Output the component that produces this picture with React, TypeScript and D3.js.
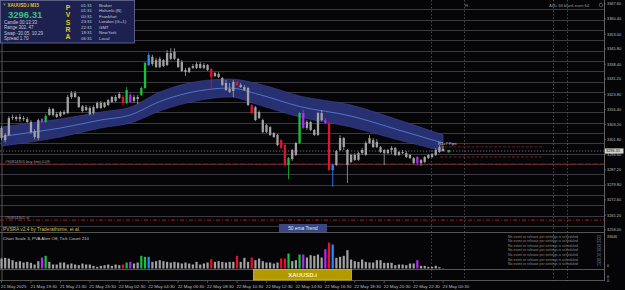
import React from 'react';
import * as d3 from 'd3';

// XAUUSD.i M15 bars, [open, high, low, close]
const ohlc: [number, number, number, number][] = [
  [3307.5, 3308.5, 3301.6, 3302.6], [3304.1, 3305.0, 3300.5, 3301.6], [3304.1, 3313.3, 3303.6, 3312.3],
  [3312.3, 3314.0, 3311.3, 3312.8], [3312.8, 3313.5, 3310.8, 3311.8], [3311.8, 3314.2, 3310.4, 3312.8],
  [3312.3, 3313.3, 3310.8, 3311.8], [3311.8, 3312.8, 3309.9, 3310.4], [3310.4, 3311.3, 3304.6, 3305.5],
  [3306.0, 3307.0, 3302.0, 3303.1], [3302.6, 3312.0, 3301.6, 3311.3], [3311.8, 3312.3, 3309.9, 3310.4],
  [3310.4, 3314.2, 3309.9, 3313.3], [3313.8, 3317.6, 3313.3, 3316.7], [3316.7, 3317.2, 3313.0, 3313.8],
  [3314.2, 3315.2, 3312.3, 3312.8], [3313.3, 3315.7, 3312.8, 3315.2], [3315.2, 3316.2, 3313.8, 3314.2],
  [3314.7, 3323.5, 3314.2, 3322.5], [3322.5, 3325.4, 3321.5, 3324.4], [3324.4, 3325.4, 3322.0, 3322.5],
  [3322.5, 3323.0, 3317.2, 3317.6], [3318.1, 3318.6, 3315.0, 3315.7], [3316.2, 3318.6, 3315.7, 3317.6],
  [3317.2, 3318.1, 3313.5, 3314.2], [3314.7, 3318.4, 3314.0, 3317.6], [3317.2, 3320.3, 3316.7, 3319.6],
  [3319.6, 3320.6, 3316.7, 3317.2], [3317.6, 3320.1, 3317.2, 3319.6], [3318.6, 3321.5, 3318.1, 3321.0],
  [3320.1, 3323.0, 3319.6, 3322.5], [3322.5, 3323.5, 3320.0, 3320.6], [3322.0, 3324.9, 3321.5, 3323.9],
  [3322.5, 3323.5, 3318.6, 3319.6], [3319.6, 3327.3, 3319.0, 3325.9], [3323.5, 3324.4, 3319.6, 3320.1],
  [3320.6, 3323.5, 3319.6, 3322.5], [3322.5, 3323.5, 3319.0, 3321.5], [3323.5, 3327.5, 3323.0, 3326.9],
  [3326.9, 3339.5, 3326.4, 3339.0], [3338.0, 3344.0, 3337.5, 3342.9], [3342.0, 3343.0, 3337.5, 3338.5],
  [3340.4, 3341.5, 3336.6, 3337.0], [3337.0, 3342.0, 3336.5, 3341.0], [3340.4, 3341.0, 3337.0, 3337.5],
  [3338.0, 3345.3, 3337.5, 3343.8], [3343.8, 3346.2, 3340.4, 3341.0], [3341.0, 3346.2, 3340.4, 3344.5],
  [3341.0, 3341.5, 3336.6, 3337.0], [3339.5, 3340.4, 3334.6, 3335.1], [3335.6, 3336.6, 3332.7, 3334.6],
  [3334.6, 3337.0, 3334.1, 3336.6], [3336.6, 3338.5, 3336.1, 3337.5], [3336.6, 3339.5, 3336.1, 3338.5],
  [3338.5, 3339.5, 3336.1, 3336.6], [3336.6, 3339.0, 3336.0, 3338.0], [3338.0, 3338.5, 3335.1, 3335.6],
  [3336.1, 3336.6, 3326.4, 3332.2], [3332.7, 3334.6, 3332.2, 3334.1], [3333.7, 3334.6, 3331.7, 3332.2],
  [3331.7, 3332.2, 3327.8, 3328.3], [3329.3, 3330.7, 3325.4, 3325.9], [3326.4, 3329.3, 3324.4, 3324.9],
  [3325.4, 3330.7, 3322.5, 3329.8], [3329.8, 3330.2, 3327.8, 3328.3], [3328.3, 3329.3, 3326.9, 3327.3],
  [3327.3, 3328.3, 3325.4, 3325.9], [3326.9, 3327.3, 3318.1, 3318.6], [3318.6, 3319.0, 3314.2, 3314.7],
  [3317.6, 3318.1, 3310.8, 3311.3], [3312.3, 3316.0, 3311.8, 3315.2], [3311.3, 3312.0, 3305.0, 3305.5],
  [3305.5, 3309.4, 3305.0, 3308.9], [3307.9, 3308.4, 3303.6, 3304.1], [3305.0, 3305.5, 3302.6, 3303.1],
  [3304.1, 3304.6, 3298.7, 3299.2], [3301.6, 3302.0, 3297.0, 3297.8], [3299.2, 3299.7, 3289.0, 3289.5],
  [3289.5, 3293.4, 3282.7, 3292.9], [3292.4, 3297.3, 3291.5, 3296.8], [3294.4, 3300.7, 3293.9, 3300.2],
  [3300.2, 3315.2, 3299.7, 3314.7], [3314.7, 3316.2, 3307.0, 3307.5], [3307.5, 3311.3, 3306.5, 3310.4],
  [3310.4, 3311.0, 3306.0, 3306.5], [3306.5, 3307.0, 3303.6, 3304.1], [3304.1, 3315.2, 3303.6, 3314.7],
  [3314.7, 3316.2, 3310.8, 3311.3], [3311.3, 3312.3, 3309.4, 3309.9], [3309.9, 3310.4, 3286.6, 3287.1],
  [3287.1, 3290.0, 3278.9, 3289.5], [3289.5, 3296.8, 3289.0, 3296.3], [3296.8, 3304.0, 3296.3, 3302.6],
  [3302.6, 3303.1, 3296.8, 3298.2], [3296.8, 3297.3, 3280.8, 3289.5], [3291.0, 3295.0, 3290.5, 3294.4],
  [3294.4, 3295.3, 3291.5, 3292.0], [3292.0, 3296.0, 3291.5, 3295.3], [3295.3, 3297.8, 3294.4, 3296.8],
  [3294.4, 3301.0, 3294.0, 3300.2], [3300.2, 3304.0, 3299.7, 3302.6], [3301.6, 3302.6, 3297.8, 3298.2],
  [3298.2, 3302.1, 3297.8, 3300.7], [3298.2, 3298.7, 3295.3, 3295.8], [3296.8, 3297.3, 3289.5, 3295.3],
  [3295.3, 3297.3, 3294.8, 3296.8], [3296.8, 3298.7, 3294.8, 3297.8], [3297.8, 3298.2, 3293.9, 3294.4],
  [3294.4, 3296.3, 3293.9, 3295.8], [3295.8, 3296.8, 3294.8, 3295.3], [3295.3, 3296.3, 3292.9, 3293.4],
  [3294.4, 3294.8, 3292.4, 3292.9], [3292.9, 3293.4, 3290.0, 3290.5], [3293.4, 3293.9, 3289.5, 3290.5],
  [3290.5, 3292.4, 3289.0, 3291.9], [3291.0, 3293.9, 3290.5, 3293.4], [3292.9, 3294.8, 3292.4, 3294.4],
  [3293.4, 3295.3, 3292.9, 3294.8], [3294.4, 3297.8, 3293.9, 3296.8], [3295.8, 3299.2, 3295.3, 3298.2],
  [3297.3, 3298.7, 3296.0, 3296.31],
];

const tickVolume = [
  9600, 10240, 9600, 8000, 6400, 7040, 5760, 6400, 5440, 3840, 7040, 10560, 12160, 6400, 3840, 3840,
  5760, 5760, 3840, 4800, 3840, 3200, 4800, 3840, 3840, 2560, 1600, 2560, 3200, 3840, 2560, 3840,
  3200, 3840, 5760, 6400, 4800, 5760, 12160, 11200, 11200, 6400, 7040, 8000, 7040, 6400, 5760, 6400,
  5760, 4800, 5760, 4800, 3840, 6400, 3840, 4800, 5760, 8960, 6400, 7040, 6400, 5760, 6400, 6400,
  12160, 6400, 10240, 6400, 10560, 8000, 9600, 7040, 5760, 5760, 4800, 5760, 9600, 9600, 14400, 7040,
  8000, 13440, 13440, 10560, 12800, 12160, 13440, 10560, 18560, 24960, 23040, 10240, 11200, 12160, 17600, 8640,
  7040, 6400, 8640, 6400, 5760, 5760, 8000, 8000, 5440, 5440, 5440, 3200, 3840, 3840, 3200, 4800,
  4800, 8000, 2560, 2560, 1600, 1600, 2560, 1280, 210,
];

// PVSRA coloured bars: r climax bear, g climax bull, b rising bull, p rising bear
const pvsraBars: [number, string][] = [
  [11, 'p'], [12, 'g'], [33, 'r'], [34, 'g'], [35, 'p'], [38, 'g'], [39, 'g'], [40, 'b'],
  [57, 'r'], [64, 'r'], [68, 'r'], [76, 'r'], [77, 'r'], [78, 'g'], [81, 'g'], [82, 'p'],
  [88, 'p'], [89, 'r'], [90, 'b'], [113, 'p'],
];

// 50 ema trend band
const emaBandIndex = [0, 8, 16, 27, 35, 43, 54, 62, 70, 81, 95, 108, 120];
const emaBandUpper = [3307.9, 3309.9, 3311.8, 3315.2, 3317.6, 3324.9, 3330.2, 3331.2, 3328.8, 3323.0, 3318.6, 3311.3, 3304.1];
const emaBandLower = [3298.7, 3300.7, 3303.1, 3307.5, 3309.9, 3315.7, 3321.0, 3322.5, 3318.6, 3312.8, 3307.9, 3301.6, 3296.3];

const priceTicks = [3367.6, 3360.4, 3353.0, 3345.8, 3338.4, 3331.2, 3323.8, 3316.4, 3309.2, 3301.8, 3294.6, 3287.2, 3279.8, 3272.6, 3265.2, 3258.0];
const timeLabels = [
  '21 May 2025', '21 May 19:30', '21 May 21:30', '21 May 23:30', '22 May 02:30', '22 May 04:30',
  '22 May 06:30', '22 May 08:30', '22 May 10:30', '22 May 12:30', '22 May 14:30', '22 May 16:30',
  '22 May 18:30', '22 May 20:30', '22 May 22:30', '23 May 00:30',
];
const bidPrice = 3296.31;
const buyLimit = 3290.0;
const stopLoss = 3262.8;
const pivotLevels = [3298.3, 3293.4];

const infoLines = ['Candle  00:13:33', 'Range  302. 47', 'Swap  -30.05, 10.29', 'Spread  1.70'];
const sessionTimes = ['01:31', '01:31', '00:31', '23:31', '22:31', '18:31', '06:31'];
const sessionNames = ['Broker', 'Helsinki (B)', 'Frankfurt', 'London (G+1)', 'GMT', 'NewYork', 'Local'];

const COLORS: Record<string, string> = {
  n: '#a2a2a2', r: '#e4122e', g: '#18c23f', b: '#1f8fff', p: '#b22cf5',
};
const FONT = 'Liberation Sans, Arial, sans-serif';

export default function App() {
  const x = d3.scaleLinear().domain([0, 120]).range([1.5, 443.1]);
  const y = d3.scaleLinear().domain([3258, 3367.6]).range([230, 4]);
  const vy = d3.scaleLinear().domain([0, 33646]).range([268.5, 233.5]);
  const colorOf = new Map(pvsraBars);
  const gridPrices = d3.range(3260, 3366, 5);

  const idx = d3.range(emaBandIndex.length);
  const band = d3.area<number>()
    .x(i => x(emaBandIndex[i]))
    .y0(i => y(emaBandLower[i]))
    .y1(i => y(emaBandUpper[i]))
    .curve(d3.curveMonotoneX);
  const mid = d3.line<number>()
    .x(i => x(emaBandIndex[i]))
    .y(i => y((emaBandLower[i] + emaBandUpper[i]) / 2))
    .curve(d3.curveMonotoneX);

  const vLines = [431, 464, 553, 567];

  return (
    <svg width={625} height={290} style={{ position: 'absolute', left: 0, top: 0, background: '#050507' }} fontFamily={FONT}>
      <defs>
        <clipPath id="main"><rect x={0} y={0} width={604} height={232} /></clipPath>
      </defs>

      {/* grid */}
      {gridPrices.map(p => (
        <line key={p} x1={0} x2={604} y1={Math.round(y(p)) + 0.5} y2={Math.round(y(p)) + 0.5} stroke="#3a3a3e" strokeWidth={1} />
      ))}
      {vLines.map(v => (
        <line key={v} x1={v + 0.5} x2={v + 0.5} y1={0} y2={281} stroke="#5a5a5a" strokeWidth={0.8} strokeDasharray="1.5,2" />
      ))}
      <line x1={2} x2={2} y1={0} y2={281} stroke="#6a6a6a" strokeWidth={0.8} />

      <g clipPath="url(#main)">
        {/* 50 ema band */}
        <path d={band(idx) ?? ''} fill="#283072" stroke="#3a4490" strokeWidth={0.6} />
        <path d={mid(idx) ?? ''} fill="none" stroke="#4d7fd6" strokeWidth={0.9} />

        {/* order / price lines */}
        <line x1={0} x2={604} y1={y(bidPrice)} y2={y(bidPrice)} stroke="#9a9a9a" strokeWidth={0.7} strokeDasharray="1.2,1.8" />
        <line x1={0} x2={604} y1={y(buyLimit)} y2={y(buyLimit)} stroke="#a3121a" strokeWidth={0.9} strokeDasharray="6,1.5" />
        <line x1={0} x2={604} y1={y(stopLoss)} y2={y(stopLoss)} stroke="#b3261a" strokeWidth={0.9} strokeDasharray="4,2,1,2" />
        {pivotLevels.map(p => (
          <line key={p} x1={440} x2={544} y1={y(p)} y2={y(p)} stroke="#8e1c1c" strokeWidth={0.8} strokeDasharray="3,1.5" />
        ))}

        {/* candles */}
        {ohlc.map(([o, h, l, c], i) => {
          const col = COLORS[colorOf.get(i) ?? 'n'];
          const top = y(Math.max(o, c));
          const hgt = Math.max(0.8, Math.abs(y(o) - y(c)));
          return (
            <g key={i}>
              <line x1={x(i)} x2={x(i)} y1={y(h)} y2={y(l)} stroke={col} strokeWidth={0.8} />
              <rect x={x(i) - 1.15} y={top} width={2.3} height={hgt} fill={col} />
            </g>
          );
        })}

        <text x={5} y={y(buyLimit) - 1.5} fontSize={4} fill="#9a9a9a">#90814301 buy limit 0.09</text>
        <text x={5} y={y(stopLoss) - 1.5} fontSize={4} fill="#9a9a9a">#90814301 sl</text>
        <text x={438} y={y(3299.4)} fontSize={4} fill="#c8c8c8">R1+7 Pips</text>
        <rect x={447.5} y={y(bidPrice) - 1} width={2.5} height={2.5} fill="#2ea84a" />
        <text x={465} y={6.5} fontSize={4} fill="#9a9a9a">H</text>
        <text x={549} y={6.5} fontSize={4} fill="#9a9a9a">AiRc 66 blank even 64</text>
        <circle cx={601} cy={5} r={1.8} fill="none" stroke="#9a9a9a" strokeWidth={0.5} />
      </g>

      {/* info panel */}
      <rect x={0.5} y={0.5} width={134} height={42.5} fill="#1c2150" stroke="#6a6f98" strokeWidth={0.8} />
      <path d="M3,3.6 L6,3.6 L4.5,5.8 Z" fill="#2ea84a" />
      <text x={7.5} y={6.6} fontSize={4.5} fontWeight="bold" fill="#e6c21a">XAUUSD.i  M15</text>
      <text x={8} y={17.8} fontSize={9.5} fontWeight="bold" fill="#3fbf7a">3296.31</text>
      {infoLines.map((t, k) => (
        <text key={t} x={4} y={23.8 + k * 5.5} fontSize={4.5} fill="#c8c8d0">{t}</text>
      ))}
      {['P', 'V', 'S', 'R', 'A'].map((t, k) => (
        <text key={t} x={68} y={9.8 + k * 7.4} fontSize={6.8} fontWeight="bold" fill="#e8c81a" textAnchor="middle">{t}</text>
      ))}
      {sessionTimes.map((t, k) => (
        <text key={k} x={81} y={6.5 + k * 5.55} fontSize={4.4} fill="#c8c8d0">{t}</text>
      ))}
      {sessionNames.map((t, k) => (
        <text key={t} x={99} y={6.5 + k * 5.55} fontSize={4.4} fill="#c8c8d0">{t}</text>
      ))}

      {/* bottom of main window */}
      <text x={3} y={230.5} fontSize={4.8} fill="#d4be55">PVSRA  v2.4 by Traderathome,  et al.</text>
      <rect x={279} y={224} width={48} height={8.5} fill="#3b4684" />
      <text x={303} y={230.3} fontSize={4.8} fill="#e8e8f0" textAnchor="middle">50  ema  Trend</text>

      {/* panel separators */}
      <line x1={0} x2={604} y1={232.5} y2={232.5} stroke="#6a6a6a" strokeWidth={0.8} />
      <line x1={0} x2={604} y1={269.5} y2={269.5} stroke="#6a6a6a" strokeWidth={0.8} />
      <line x1={0} x2={604} y1={280.5} y2={280.5} stroke="#6a6a6a" strokeWidth={0.8} />
      <line x1={604.5} x2={604.5} y1={0} y2={281} stroke="#7a7a7a" strokeWidth={0.8} />

      {/* volume subwindow */}
      <text x={3} y={239.5} fontSize={4.4} fill="#c8c8c8">Chart Scale  3,   PVA Alert Off,   Tick Count  210</text>
      {tickVolume.map((v, i) => (
        <rect key={i} x={x(i) - 1.1} y={vy(v)} width={2.2} height={vy(0) - vy(v)} fill={COLORS[colorOf.get(i) ?? 'n']} />
      ))}
      {d3.range(1, 8).map(k => (
        <g key={k}>
          <text x={508} y={237.8 + (k - 1) * 4.55} fontSize={3.5} fill="#8a8a8a">No event or release per settings is scheduled</text>
          <text x={597} y={237.8 + (k - 1) * 4.55} fontSize={3.5} fill="#8a8a8a">[{k}]</text>
        </g>
      ))}

      {/* symbol bar */}
      <rect x={253.5} y={269.5} width={98} height={10.5} fill="#b39a00" stroke="#dcc010" strokeWidth={0.8} />
      <text x={302.5} y={277.2} fontSize={6} fontWeight="bold" fill="#f4f0d8" textAnchor="middle">XAUUSD.i</text>

      {/* price axis */}
      {priceTicks.map(p => (
        <g key={p}>
          <line x1={604} x2={606} y1={y(p)} y2={y(p)} stroke="#7a7a7a" strokeWidth={0.6} />
          <text x={607} y={y(p) + 1.4} fontSize={3.9} fill="#bdbdbd">{p.toFixed(2)}</text>
        </g>
      ))}
      <rect x={605} y={y(bidPrice) - 2.6} width={18.5} height={5.2} fill="#d2d2d2" />
      <text x={606} y={y(bidPrice) + 1.4} fontSize={3.9} fill="#111">{bidPrice.toFixed(2)}</text>
      <text x={607} y={237.5} fontSize={3.6} fill="#bdbdbd">33646</text>
      <text x={607} y={266.5} fontSize={3.6} fill="#bdbdbd">0</text>
      <text x={607} y={277.5} fontSize={3.6} fill="#bdbdbd">0</text>
      <text x={607} y={281.5} fontSize={3.6} fill="#bdbdbd">0</text>

      {/* time axis */}
      {timeLabels.map((t, k) => (
        <g key={t}>
          <line x1={x(k * 8)} x2={x(k * 8)} y1={281} y2={283} stroke="#7a7a7a" strokeWidth={0.6} />
          <text x={x(k * 8) - 0.5} y={287.5} fontSize={4.4} fill="#bdbdbd">{t}</text>
        </g>
      ))}
    </svg>
  );
}
